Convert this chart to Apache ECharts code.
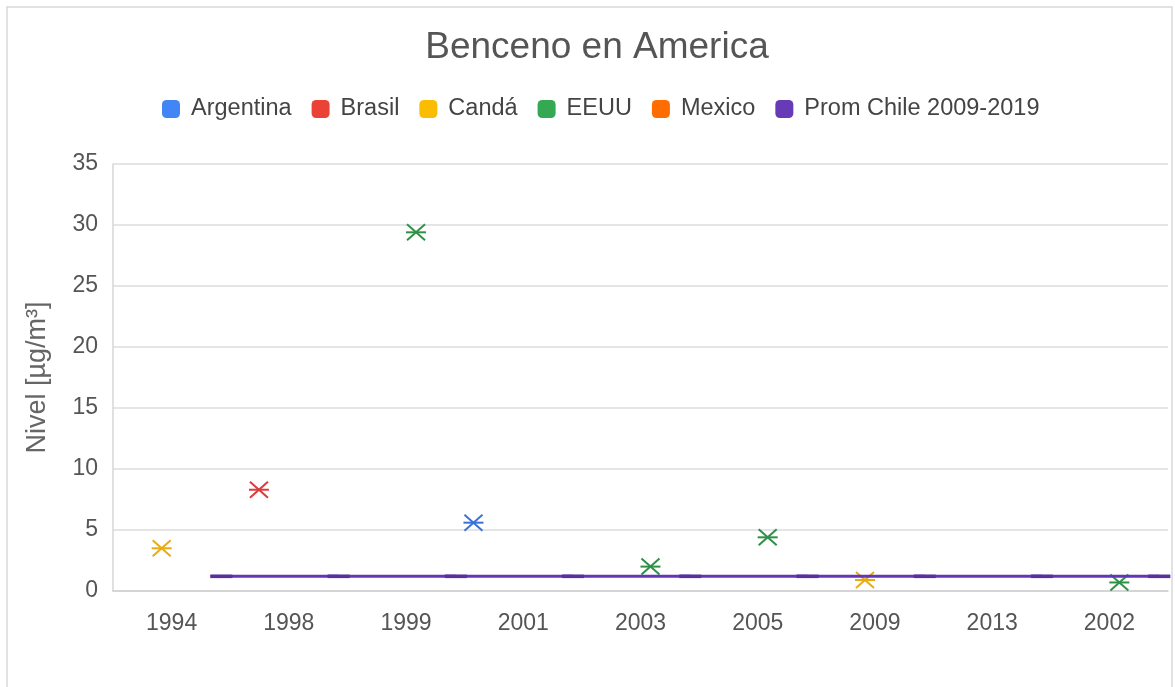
<!DOCTYPE html>
<html>
<head>
<meta charset="utf-8">
<script src="https://cdn.jsdelivr.net/npm/echarts@6/dist/echarts.min.js"></script>
<style>
  html, body { margin: 0; padding: 0; background: #fff; }
  #chart { width: 1175px; height: 687px; }
</style>
</head>
<body>
<div id="chart"></div>
<script>
// categorias del eje x
const years = ['1994', '1998', '1999', '2001', '2003', '2005', '2009', '2013', '2002']
// valores por pais (µg/m³)
const argentina = [null, null, null, 5.6, null, null, null, null, null]
const brasil = [null, 8.3, null, null, null, null, null, null, null]
const canada = [3.5, null, null, null, null, null, 0.9, null, null]
const eeuu = [null, null, 29.4, null, 2.0, 4.4, null, null, 0.7]
const mexico = [null, null, null, null, null, null, null, null, null]
const chile = [1.2, 1.2, 1.2, 1.2, 1.2, 1.2, 1.2, 1.2, 1.2]

const names = ['Argentina', 'Brasil', 'Candá', 'EEUU', 'Mexico', 'Prom Chile 2009-2019']
const legendColors = ['#4285F4', '#EA4335', '#FBBC04', '#34A853', '#FF6D01', '#673AB7']
const markColors = ['#3a72d8', '#dc3c3c', '#e8ab14', '#2f9148', '#f06a12', '#6236b8']
const values = [argentina, brasil, canada, eeuu, mexico, chile]

const font = '"Liberation Sans", Arial, sans-serif'

let myChart = echarts.init(document.getElementById('chart'))

// desplazamiento dentro de cada categoria, como columnas agrupadas
function slotX(api, idx) {
  let band = api.size([1, 0])[0]
  let slot = band * 0.17
  return (idx - 2.5) * slot
}

function starItem(idx) {
  return function (params, api) {
    let p = api.coord([api.value(0), api.value(1)])
    let x = p[0] + slotX(api, idx)
    let y = p[1]
    let st = { stroke: markColors[idx], lineWidth: 2 }
    return {
      type: 'group',
      children: [
        { type: 'line', shape: { x1: x - 10, y1: y, x2: x + 10, y2: y }, style: st },
        { type: 'line', shape: { x1: x - 9, y1: y - 8, x2: x + 9, y2: y + 8 }, style: st },
        { type: 'line', shape: { x1: x - 9, y1: y + 8, x2: x + 9, y2: y - 8 }, style: st }
      ]
    }
  }
}

function chileItem(params, api) {
  let i = api.value(0)
  let v = api.value(1)
  let p = api.coord([i, v])
  let x = p[0] + slotX(api, 5)
  let y = p[1]
  let endX = x + 11
  if (i < years.length - 1) {
    endX = api.coord([i + 1, v])[0] + slotX(api, 5)
  }
  return {
    type: 'group',
    children: [{
      type: 'line',
      shape: { x1: x - 11, y1: y, x2: endX, y2: y },
      style: { stroke: '#6236b8', lineWidth: 3 }
    }, {
      type: 'line',
      shape: { x1: x - 11, y1: y, x2: x + 11, y2: y },
      style: { stroke: '#5a3198', lineWidth: 3.5 }
    }]
  }
}

let series = values.map((arr, idx) => {
  let data = []
  arr.forEach((v, i) => { if (v != null) data.push([i, v]) })
  return {
    name: names[idx],
    type: 'custom',
    renderItem: idx === 5 ? chileItem : starItem(idx),
    itemStyle: { color: legendColors[idx] },
    encode: { x: 0, y: 1 },
    clip: false,
    data: data
  }
})

let option = {
  backgroundColor: '#fff',
  animation: false,
  textStyle: { fontFamily: font },
  title: {
    text: 'Benceno en America',
    left: 592,
    textAlign: 'center',
    top: 24,
    textStyle: { fontSize: 37, fontWeight: 'normal', color: '#555', fontFamily: font }
  },
  legend: {
    left: 157,
    top: 92,
    icon: 'roundRect',
    itemWidth: 18,
    itemHeight: 18,
    itemGap: 20,
    textStyle: { fontSize: 23.5, color: '#444', fontFamily: font, padding: [0, 0, 0, 6] },
    data: names
  },
  grid: { left: 113, right: 7, top: 164, bottom: 96 },
  xAxis: {
    type: 'category',
    data: years,
    boundaryGap: true,
    axisTick: { show: false },
    axisLine: { lineStyle: { color: '#cfcfcf', width: 1.5 } },
    axisLabel: { fontSize: 23, color: '#555', margin: 21, fontFamily: font }
  },
  yAxis: {
    type: 'value',
    min: 0,
    max: 35,
    interval: 5,
    name: 'Nivel [µg/m³]',
    nameLocation: 'middle',
    nameGap: 62,
    nameTextStyle: { fontSize: 27, color: '#666', fontFamily: font },
    axisLine: { show: true, lineStyle: { color: '#d6d6d6', width: 1.5 } },
    axisTick: { show: false },
    axisLabel: { fontSize: 23, color: '#555', margin: 15, fontFamily: font },
    splitLine: { lineStyle: { color: '#dcdcdc', width: 1.5 } }
  },
  graphic: [{
    type: 'rect',
    silent: true,
    shape: { x: 7, y: 7, width: 1165, height: 700 },
    style: { fill: 'none', stroke: '#d9d9d9', lineWidth: 1.5 }
  }],
  series: series
}

myChart.setOption(option)
</script>
</body>
</html>
